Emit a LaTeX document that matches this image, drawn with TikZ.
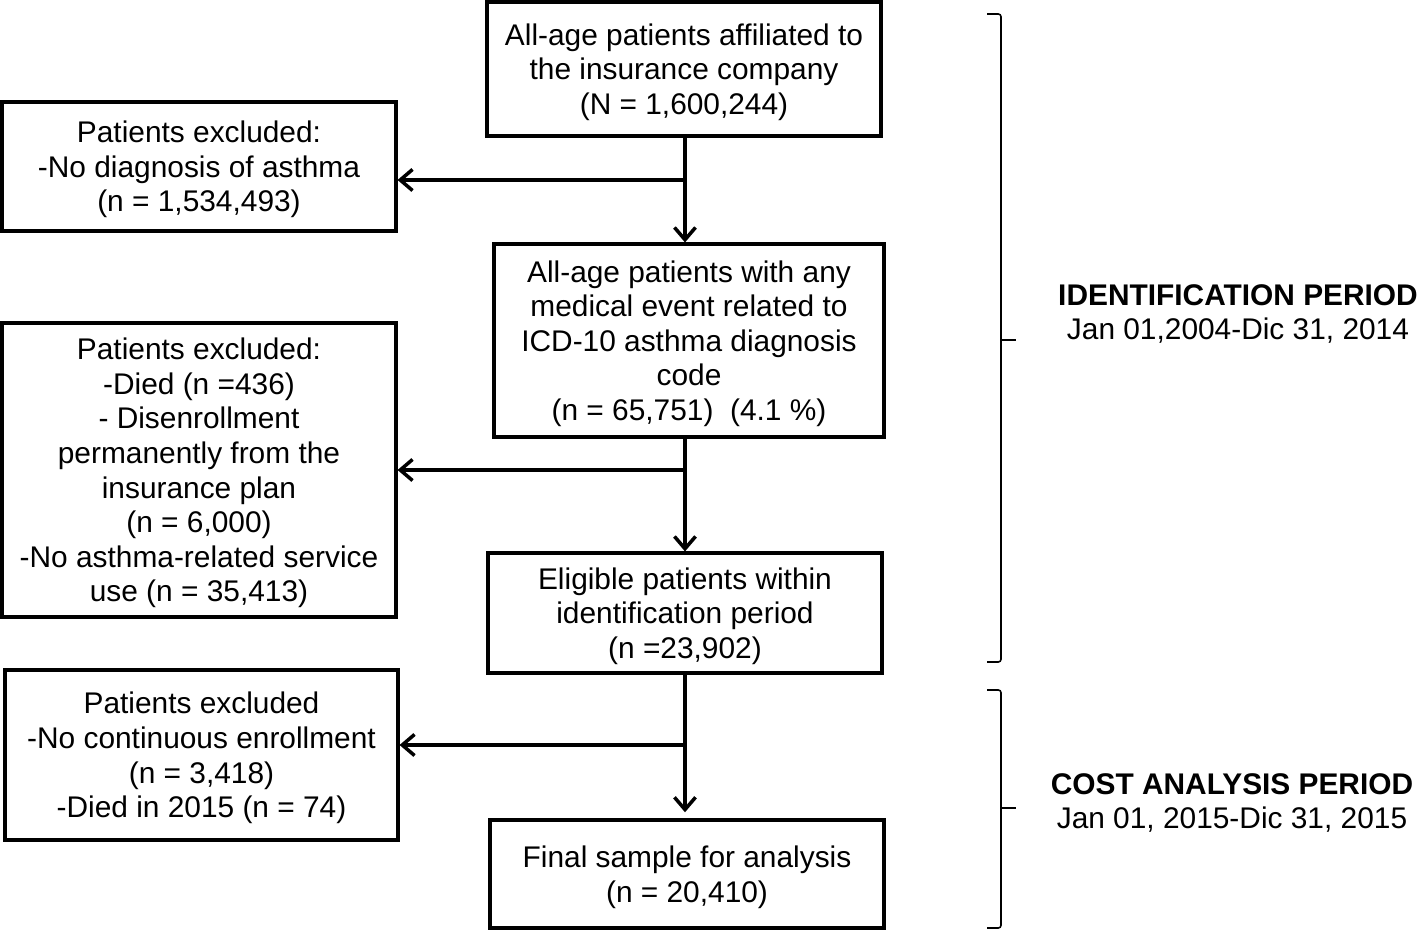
\documentclass[tikz,border=0pt]{standalone}
\usepackage{fontspec}
\setmainfont{Liberation Sans}
\usetikzlibrary{positioning,calc,arrows.meta}
\tikzset{
  box/.style={draw, line width=1.8pt, minimum width=7.88cm, inner sep=0pt, text depth=0pt, align=center},
  flow/.style={line width=2pt, -{Straight Barb[length=7pt, width=12pt, line width=2pt]}},
  brk/.style={line width=0.9pt, rounded corners=1.5pt}}

\begin{document}
\begin{tikzpicture}[x=0.02cm, y=-0.02cm, font=\fontsize{17}{19.7}\selectfont]
\useasboundingbox (0,0) rectangle (1418,932);
% main column
\node[box, minimum height=2.68cm] (all) at (684,69) {All-age patients affiliated to\\the insurance company\\(N = 1,600,244)};
\node[box, minimum width=7.8cm, minimum height=3.86cm] (icd) at (689,340.5) {All-age patients with any\\medical event related to\\ICD-10 asthma diagnosis\\code\\(n = 65,751)\ \ (4.1 \%)};
\node[box, minimum height=2.4cm] (elig) at (685,613) {Eligible patients within\\identification period\\(n =23,902)};
\node[box, minimum height=2.16cm] (final) at (687,874) {Final sample for analysis\\(n = 20,410)};
% exclusions
\node[box, minimum height=2.58cm] (ex1) at (199,166.5) {Patients excluded:\\-No diagnosis of asthma\\(n = 1,534,493)};
\node[box, minimum height=5.88cm] (ex2) at (199,470) {Patients excluded:\\-Died (n =436)\\- Disenrollment\\permanently from the\\insurance plan\\(n = 6,000)\\-No asthma-related service\\use (n = 35,413)};
\node[box, minimum width=7.86cm, minimum height=3.4cm] (ex3) at (201.5,755) {Patients excluded\\-No continuous enrollment\\(n = 3,418)\\-Died in 2015 (n = 74)};
% arrows
\coordinate (s1) at (685,180);
\coordinate (s2) at (685,470);
\coordinate (s3) at (685,745);
\draw[flow] (all.south -| s1) -- (s1 |- icd.north);
\draw[flow] (s1) -- (s1 -| ex1.east);
\draw[flow] (icd.south -| s2) -- (s2 |- elig.north);
\draw[flow] (s2) -- (s2 -| ex2.east);
\draw[flow, shorten >=3.5pt] (elig.south -| s3) -- (s3 |- final.north);
\draw[flow] (s3) -- (s3 -| ex3.east);
% periods
\coordinate (b1) at (1001,14);
\coordinate (b2) at (1001,662);
\coordinate (b3) at (1001,690);
\coordinate (b4) at (1001,928);
\draw[brk] ($(b1)+(-14,0)$) -- (b1) -- (b2) -- ($(b2)+(-14,0)$);
\draw[brk] ($(b3)+(-14,0)$) -- (b3) -- (b4) -- ($(b4)+(-14,0)$);
\draw[brk] (1001,340) -- (1016,340);
\draw[brk] (1001,808) -- (1016,808);
\node[align=center, inner sep=0pt] (idp) at (1238,314) {\textbf{IDENTIFICATION PERIOD}\\Jan 01,2004-Dic 31, 2014};
\node[align=center, inner sep=0pt] (cap) at (1232,803) {\textbf{COST ANALYSIS PERIOD}\\Jan 01, 2015-Dic 31, 2015};
\end{tikzpicture}
\end{document}
